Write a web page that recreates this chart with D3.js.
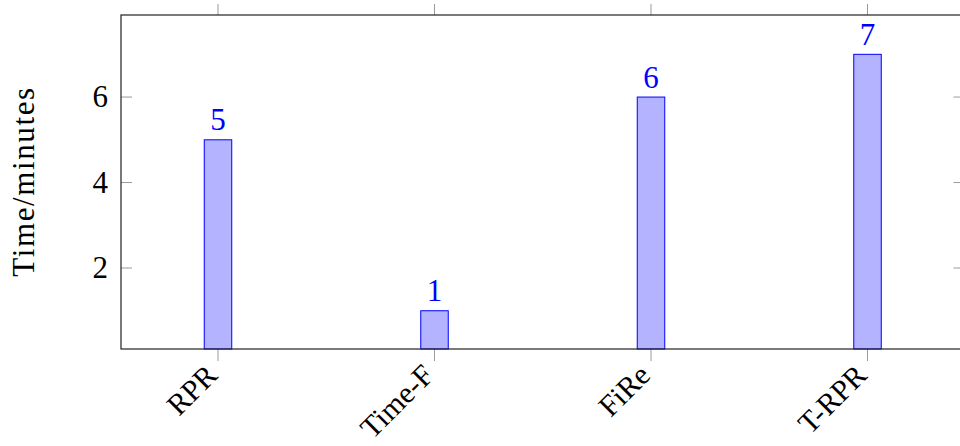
<!DOCTYPE html>
<html><head><meta charset="utf-8">
<script src="https://cdn.jsdelivr.net/npm/d3@7"></script>
<style>body{margin:0;background:#fff}svg{display:block}</style>
</head><body><svg id="c" width="960" height="446"></svg>
<script>
const categories = ["RPR", "Time-F", "FiRe", "T-RPR"];
const values = [5, 1, 6, 7];
const yTicks = [2, 4, 6];
const yTitle = "Time/minutes";

const svg = d3.select("#c");
const FONT = '"Liberation Serif"';
const FS = 31;
const L = 121, R = 964.5, T = 15, B = 349;
const x = d3.scalePoint().domain(categories).range([L, R]).padding(0.448);
const y = d3.scaleLinear().domain([0.105, 7.92]).range([B, T]);
const tickCol = "#9a9a9a";

function txt(sel, fs) {
  return sel.style("font-family", FONT).style("font-size", (fs || FS) + "px");
}

const g = svg.append("g");
yTicks.forEach(t => {
  g.append("line").attr("x1", L).attr("x2", L + 11).attr("y1", y(t)).attr("y2", y(t)).attr("stroke", tickCol);
  g.append("line").attr("x1", R - 11).attr("x2", R).attr("y1", y(t)).attr("y2", y(t)).attr("stroke", tickCol);
  txt(g.append("text")).attr("x", 108).attr("y", y(t)).attr("dy", "0.33em").attr("text-anchor", "end")
    .attr("fill", "#000").text(t);
});
categories.forEach(c => {
  g.append("line").attr("x1", x(c)).attr("x2", x(c)).attr("y1", B).attr("y2", B + 12).attr("stroke", tickCol);
  g.append("line").attr("x1", x(c)).attr("x2", x(c)).attr("y1", T - 11).attr("y2", T).attr("stroke", tickCol);
  txt(g.append("text"), 30).attr("transform", `translate(${x(c) + 1},${B + 28}) rotate(-45)`)
    .attr("text-anchor", "end").attr("fill", "#000").text(c);
});

const bw = 27.5;
svg.append("g").selectAll("rect").data(values).join("rect")
  .attr("x", (d, i) => x(categories[i]) - bw / 2)
  .attr("y", d => y(d))
  .attr("width", bw)
  .attr("height", d => B - y(d))
  .attr("fill", "#b3b3ff").attr("stroke", "#0000ff").attr("stroke-width", 1);
txt(svg.append("g").selectAll("text").data(values).join("text"))
  .attr("x", (d, i) => x(categories[i]))
  .attr("y", d => y(d) - 9.5)
  .attr("text-anchor", "middle").attr("fill", "#0000ff").text(d => d);

svg.append("rect").attr("x", L).attr("y", T).attr("width", R - L).attr("height", B - T)
  .attr("fill", "none").attr("stroke", "#222").attr("stroke-width", 1.2);

txt(svg.append("text")).attr("transform", `translate(34,181.5) rotate(-90)`)
  .attr("text-anchor", "middle").attr("fill", "#000").style("letter-spacing", "1.6px").text(yTitle);
</script></body></html>
